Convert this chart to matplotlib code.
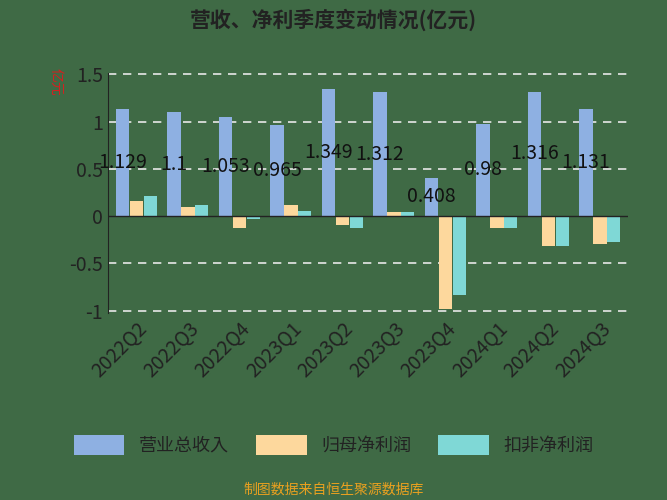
import matplotlib
matplotlib.use("Agg")
import matplotlib.pyplot as plt
from matplotlib import font_manager as fm
import numpy as np

cjk = None
for f in fm.findSystemFonts():
    if 'CJK' in f or 'cjk' in f.lower():
        try:
            fm.fontManager.addfont(f)
            name = fm.FontProperties(fname=f).get_name()
            if cjk is None or 'SC' in name:
                cjk = name
        except Exception:
            pass
plt.rcParams['font.family'] = [cjk or 'Noto Sans CJK SC', 'DejaVu Sans']
plt.rcParams['axes.unicode_minus'] = False

quarters = ["2022Q2","2022Q3","2022Q4","2023Q1","2023Q2","2023Q3","2023Q4","2024Q1","2024Q2","2024Q3"]
revenue = [1.129,1.1,1.053,0.965,1.349,1.312,0.408,0.98,1.316,1.131]
net_profit = [0.165,0.095,-0.13,0.12,-0.09,0.04,-0.98,-0.13,-0.32,-0.30]
deducted = [0.21,0.12,-0.03,0.05,-0.13,0.04,-0.83,-0.13,-0.32,-0.27]
labels = ["1.129","1.1","1.053","0.965","1.349","1.312","0.408","0.98","1.316","1.131"]

bg = '#3f6a45'
fig = plt.figure(figsize=(6.67,5.0), dpi=100, facecolor=bg)
ax = fig.add_axes([0.162, 0.375, 0.78, 0.48], facecolor=bg)
x = np.arange(len(quarters))
w = 0.27
ax.bar(x - w, revenue, w*0.95, color='#8eb0e2', label='营业总收入')
ax.bar(x, net_profit, w*0.95, color='#fdd89d', label='归母净利润')
ax.bar(x + w, deducted, w*0.95, color='#7fd8d6', label='扣非净利润')
for i, (v, t) in enumerate(zip(revenue, labels)):
    ax.text(x[i] - w, v/2, t, ha='center', va='center', fontsize=14, color='#111111')
ax.set_ylim(-1.02, 1.52)
ax.set_xlim(-0.55, len(quarters) - 0.45)
ax.set_yticks([-1, -0.5, 0, 0.5, 1, 1.5])
ax.set_yticklabels(['-1', '-0.5', '0', '0.5', '1', '1.5'], fontsize=14, color='#222222')
for yv in [-1, -0.5, 0.5, 1, 1.5]:
    ax.axhline(yv, color='#e8e8e8', ls=(0, (5, 4)), lw=1.2, zorder=0)
ax.axhline(0, color='#222222', lw=1)
ax.set_xticks(x)
ax.set_xticklabels(quarters, rotation=45, ha='right', rotation_mode='anchor', fontsize=14, color='#222222')
for s in ['top', 'right', 'bottom']:
    ax.spines[s].set_visible(False)
ax.spines['left'].set_color('#222222')
ax.tick_params(axis='x', length=0, pad=4)
ax.tick_params(axis='y', length=0)
ax.text(-0.1, 0.96, '亿元', transform=ax.transAxes, rotation=270, color='#d42020', fontsize=10, ha='center', va='center')
fig.text(0.5, 0.96, '营收、净利季度变动情况(亿元)', ha='center', va='center', fontsize=15, fontweight='bold', color='#222222')
fig.legend(loc='center', bbox_to_anchor=(0.5, 0.11), ncol=3, frameon=False, fontsize=13, handlelength=2.8, handleheight=1.4, columnspacing=1.5, labelcolor='#222222')
fig.text(0.5, 0.02, '制图数据来自恒生聚源数据库', ha='center', va='center', fontsize=10, color='#e8a020')
fig.savefig('out.png', dpi=100, facecolor=bg)
